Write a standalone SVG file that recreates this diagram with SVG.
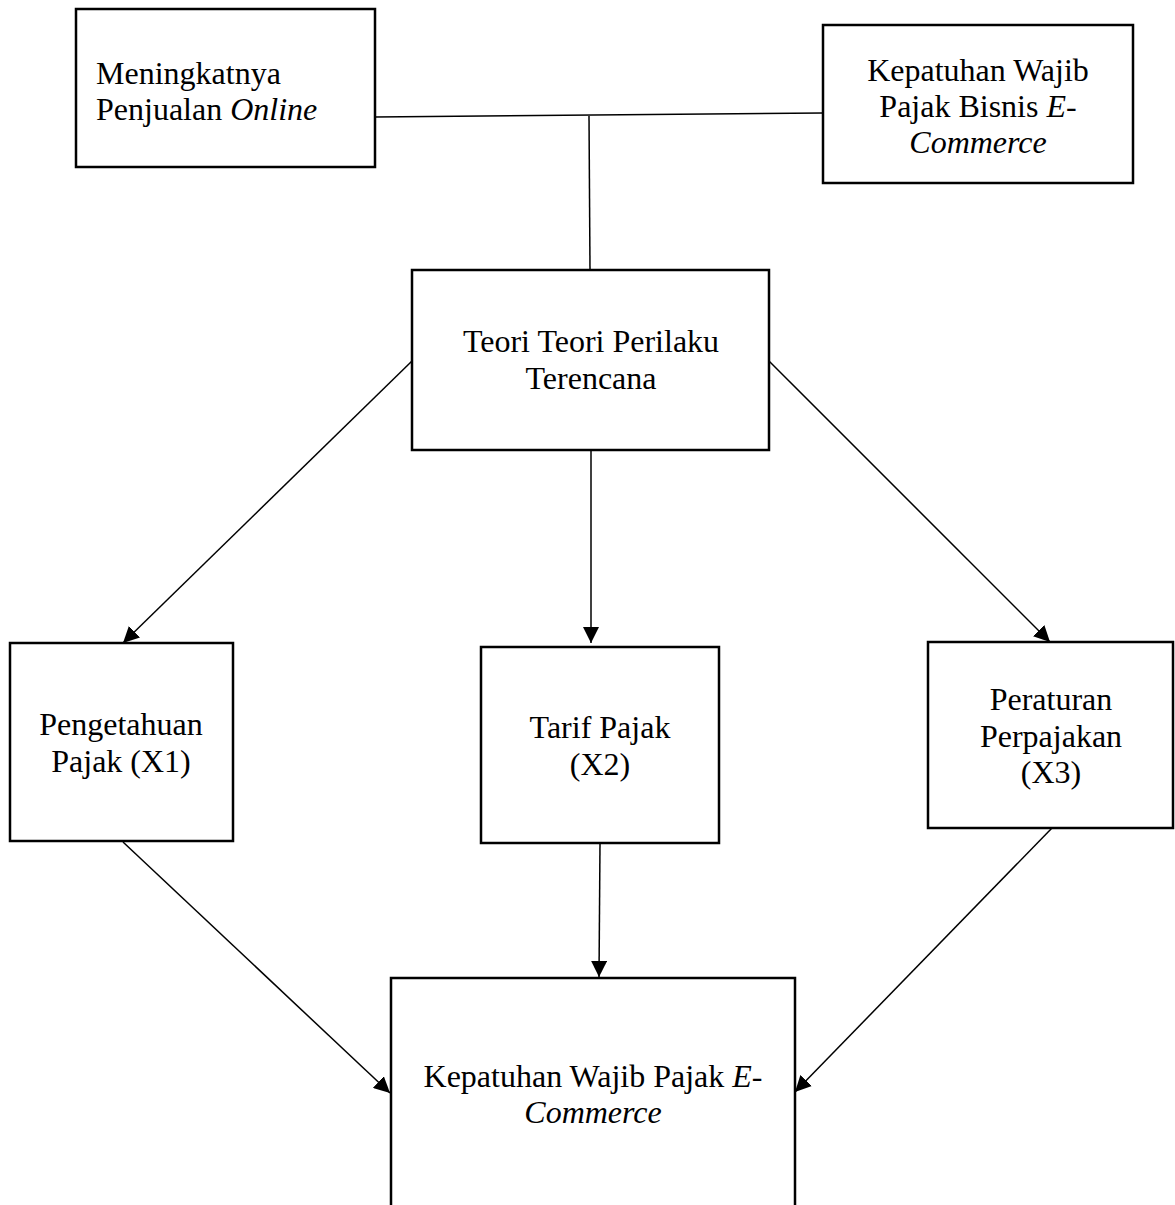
<svg xmlns="http://www.w3.org/2000/svg" width="1175" height="1205" viewBox="0 0 1175 1205">
<style>
.box{fill:#fff;stroke:#000;stroke-width:2.5}
.t{font-family:"Liberation Serif","Times New Roman",serif;font-size:32px;fill:#000}
.c{text-anchor:middle}
.i{font-style:italic}
.ln{stroke:#000;stroke-width:1.5;fill:none}
</style>
<defs>
<marker id="arr" markerUnits="userSpaceOnUse" markerWidth="17" markerHeight="16" refX="16" refY="8" orient="auto">
<path d="M0,0 L16,8 L0,16 z" fill="#000"/>
</marker>
</defs>
<rect width="1175" height="1205" fill="#fff"/>
<g id="connectors">
<line class="ln" x1="375" y1="117" x2="823" y2="113"/>
<line class="ln" x1="589" y1="116" x2="590" y2="270"/>
<line class="ln" x1="412" y1="361" x2="123" y2="643" marker-end="url(#arr)"/>
<line class="ln" x1="591" y1="450" x2="591" y2="643" marker-end="url(#arr)"/>
<line class="ln" x1="769" y1="361" x2="1050" y2="642" marker-end="url(#arr)"/>
<line class="ln" x1="123" y1="842" x2="390" y2="1093" marker-end="url(#arr)"/>
<line class="ln" x1="600" y1="843" x2="599" y2="977" marker-end="url(#arr)"/>
<line class="ln" x1="1052" y1="828" x2="795" y2="1092" marker-end="url(#arr)"/>
</g>
<g id="node-meningkatnya">
<rect class="box" x="76" y="9" width="299" height="158"/>
<text class="t" x="96" y="84">Meningkatnya</text>
<text class="t" x="96" y="120">Penjualan <tspan class="i">Online</tspan></text>
</g>
<g id="node-kepatuhan-bisnis">
<rect class="box" x="823" y="25" width="310" height="158"/>
<text class="t c" x="978" y="81">Kepatuhan Wajib</text>
<text class="t c" x="978" y="117">Pajak Bisnis <tspan class="i">E</tspan>-</text>
<text class="t c i" x="978" y="153">Commerce</text>
</g>
<g id="node-teori">
<rect class="box" x="412" y="270" width="357" height="180"/>
<text class="t c" x="591" y="352">Teori Teori Perilaku</text>
<text class="t c" x="591" y="389">Terencana</text>
</g>
<g id="node-pengetahuan">
<rect class="box" x="10" y="643" width="223" height="198"/>
<text class="t c" x="121" y="735">Pengetahuan</text>
<text class="t c" x="121" y="772">Pajak (X1)</text>
</g>
<g id="node-tarif">
<rect class="box" x="481" y="647" width="238" height="196"/>
<text class="t c" x="600" y="738">Tarif Pajak</text>
<text class="t c" x="600" y="775">(X2)</text>
</g>
<g id="node-peraturan">
<rect class="box" x="928" y="642" width="245" height="186"/>
<text class="t c" x="1051" y="710">Peraturan</text>
<text class="t c" x="1051" y="747">Perpajakan</text>
<text class="t c" x="1051" y="783">(X3)</text>
</g>
<g id="node-kepatuhan">
<rect class="box" x="391" y="978" width="404" height="240"/>
<text class="t c" x="593" y="1087">Kepatuhan Wajib Pajak <tspan class="i">E</tspan>-</text>
<text class="t c i" x="593" y="1123">Commerce</text>
</g>
</svg>
